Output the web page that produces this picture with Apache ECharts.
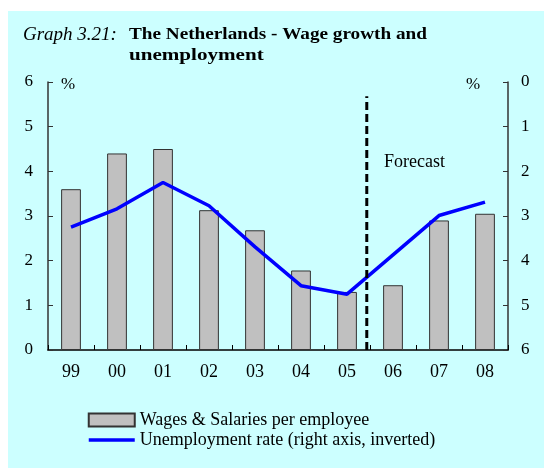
<!DOCTYPE html>
<html>
<head>
<meta charset="utf-8">
<script src="https://cdn.jsdelivr.net/npm/echarts@6/dist/echarts.min.js"></script>
<style>
  html, body { margin: 0; padding: 0; background: #ffffff; }
  #chart { width: 544px; height: 468px; }
</style>
</head>
<body>
<div id="chart"></div>
<script>
// Years (2-digit labels) on the category axis
const years = ['99', '00', '01', '02', '03', '04', '05', '06', '07', '08'];
// Wages & salaries per employee, % growth (left axis)
const wageGrowth = [3.6, 4.4, 4.5, 3.13, 2.68, 1.78, 1.3, 1.45, 2.9, 3.05];
// Unemployment rate, % (right axis, inverted)
const unemploymentRate = [3.25, 2.84, 2.25, 2.77, 3.69, 4.56, 4.75, 3.87, 2.99, 2.69];
// Tick labels for both value axes
const leftTicks = ['0', '1', '2', '3', '4', '5', '6'];
const rightTicks = ['0', '1', '2', '3', '4', '5', '6'];
// Forecast divider: position on the category index scale and its top (left-axis units)
const forecastDivider = [[6.43, 0], [6.43, 5.68]];

const serif = '"Liberation Serif", "DejaVu Serif", serif';

const chart = echarts.init(document.getElementById('chart'), null, { renderer: 'canvas' });

chart.setOption({
  backgroundColor: '#ffffff',
  animation: false,
  graphic: [
    {
      type: 'rect', z: -10, silent: true,
      shape: { x: 8, y: 11, width: 536, height: 457 },
      style: { fill: '#CCFFFF' }
    },
    {
      type: 'text', left: 23, top: 25,
      style: { text: 'Graph 3.21:', font: 'italic 19px ' + serif, fill: '#000' }
    },
    {
      type: 'text', x: 129, y: 26, scaleX: 1.13, originX: 0, originY: 0,
      style: { text: 'The Netherlands - Wage growth and', font: 'bold 17px ' + serif, fill: '#000' }
    },
    {
      type: 'text', x: 129, y: 47, scaleX: 1.24, originX: 0, originY: 0,
      style: { text: 'unemployment', font: 'bold 17px ' + serif, fill: '#000' }
    },
    {
      type: 'text', left: 61, top: 76,
      style: { text: '%', font: '17px ' + serif, fill: '#000' }
    },
    {
      type: 'text', left: 466, top: 76,
      style: { text: '%', font: '17px ' + serif, fill: '#000' }
    },
    {
      type: 'text', left: 384, top: 153,
      style: { text: 'Forecast', font: '18px ' + serif, fill: '#000' }
    }
  ],
  grid: { left: 48, right: 36, top: 82, bottom: 118, containLabel: false },
  legend: {
    orient: 'vertical',
    left: 87,
    top: 411,
    padding: 0,
    itemWidth: 46,
    itemHeight: 13,
    itemGap: 2,
    textStyle: { fontFamily: serif, fontSize: 18, color: '#000' },
    data: [
      { name: 'Wages & Salaries per employee', icon: 'rect' },
      {
        name: 'Unemployment rate (right axis, inverted)',
        itemStyle: { opacity: 0 },
        lineStyle: { width: 3.5, color: '#0000FF' }
      }
    ]
  },
  xAxis: [
    {
      type: 'category',
      data: years,
      boundaryGap: true,
      axisLine: { lineStyle: { color: '#000', width: 1.5 } },
      axisTick: { show: true, inside: true, length: 5, alignWithLabel: false, lineStyle: { color: '#000' } },
      axisLabel: { fontFamily: serif, fontSize: 18, color: '#000', margin: 13 },
      splitLine: { show: false }
    },
    {
      type: 'value',
      min: -0.5, max: 9.5,
      show: false
    }
  ],
  yAxis: [
    {
      type: 'value',
      min: 0, max: 6, interval: 1,
      axisLine: { show: true, onZero: false, lineStyle: { color: '#333', width: 1.5 } },
      axisTick: { show: true, inside: true, length: 5, lineStyle: { color: '#333' } },
      axisLabel: {
        fontFamily: serif, fontSize: 17, color: '#000', margin: 15,
        formatter: (v) => leftTicks[Math.round(v)]
      },
      splitLine: { show: false }
    },
    {
      type: 'value',
      min: 0, max: 6, interval: 1,
      inverse: true,
      position: 'right',
      axisLine: { show: true, onZero: false, lineStyle: { color: '#333', width: 1.5 } },
      axisTick: { show: true, inside: true, length: 5, lineStyle: { color: '#333' } },
      axisLabel: {
        fontFamily: serif, fontSize: 17, color: '#000', margin: 13,
        formatter: (v) => rightTicks[Math.round(v)]
      },
      splitLine: { show: false }
    }
  ],
  series: [
    {
      name: 'Wages & Salaries per employee',
      type: 'bar',
      xAxisIndex: 0,
      yAxisIndex: 0,
      data: wageGrowth,
      barWidth: '43%',
      itemStyle: { color: '#C0C0C0', borderColor: '#333', borderWidth: 1 },
      z: 2
    },
    {
      name: 'Unemployment rate (right axis, inverted)',
      type: 'line',
      xAxisIndex: 0,
      yAxisIndex: 1,
      data: unemploymentRate,
      symbol: 'none',
      lineStyle: { color: '#0000FF', width: 3.5 },
      itemStyle: { color: '#0000FF' },
      z: 4
    },
    {
      name: 'divider',
      type: 'line',
      xAxisIndex: 1,
      yAxisIndex: 0,
      data: forecastDivider,
      symbol: 'none',
      lineStyle: { color: '#000', width: 3, type: [8, 4] },
      z: 5,
      silent: true
    }
  ]
});
</script>
</body>
</html>
